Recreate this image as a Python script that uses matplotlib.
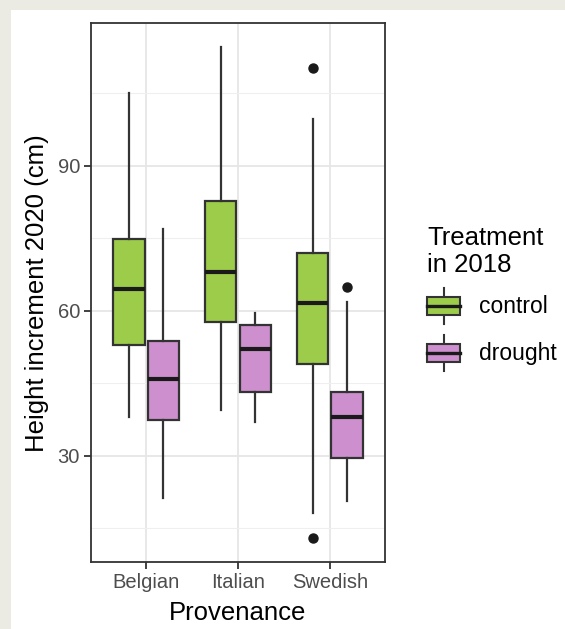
import matplotlib
matplotlib.use("Agg")
import matplotlib.pyplot as plt
from matplotlib.patches import Rectangle, Patch
from matplotlib.lines import Line2D
from matplotlib.legend_handler import HandlerBase
from matplotlib.ticker import FixedLocator

plt.rcParams['font.family'] = ['Liberation Sans', 'DejaVu Sans']

# ---- data ----
provenance = ["Belgian", "Italian", "Swedish"]
treatments = ["control", "drought"]

control_whislo = [38.1, 39.5, 18.2]
control_q1 = [53.0, 57.6, 49.0]
control_med = [64.5, 68.1, 61.6]
control_q3 = [74.8, 82.6, 72.0]
control_whishi = [105.0, 114.5, 99.6]
control_fliers = [[], [], [110.1, 13.0]]

drought_whislo = [21.2, 37.1, 20.7]
drought_q1 = [37.4, 43.3, 29.5]
drought_med = [45.8, 52.1, 38.0]
drought_q3 = [53.7, 57.0, 43.3]
drought_whishi = [76.9, 59.5, 61.9]
drought_fliers = [[], [], [65.0]]

y_major = [30, 60, 90]
y_minor = [15, 45, 75, 105]

colors = {"control": "#9dcb4a", "drought": "#cd8fcd"}
edge = "#333333"
median_col = "#1a1a1a"

series = {
    "control": (control_whislo, control_q1, control_med, control_q3, control_whishi, control_fliers),
    "drought": (drought_whislo, drought_q1, drought_med, drought_q3, drought_whishi, drought_fliers),
}

W, H = 565, 629
fig = plt.figure(figsize=(W / 100, H / 100), dpi=100, facecolor="#ebebe4")
fig.patches.append(Rectangle((11 / W, 0), 1 - 11 / W, 1 - 10 / H, transform=fig.transFigure,
                             facecolor="white", edgecolor="none", zorder=-10))

ax = fig.add_axes([91 / W, 1 - 562.3 / H, (385 - 91) / W, (562.3 - 23.3) / H])
ax.set_zorder(1)
ax.set_facecolor("white")

dodge = 0.1875
box_w = 0.34
for k, t in enumerate(treatments):
    lo, q1, med, q3, hi, fl = series[t]
    stats = []
    for i in range(len(provenance)):
        stats.append(dict(whislo=lo[i], q1=q1[i], med=med[i], q3=q3[i], whishi=hi[i],
                          fliers=fl[i], label=provenance[i]))
    offs = -dodge if k == 0 else dodge
    pos = [i + 1 + offs for i in range(len(provenance))]
    ax.bxp(stats, positions=pos, widths=box_w, patch_artist=True, showcaps=False,
           manage_ticks=False,
           boxprops=dict(facecolor=colors[t], edgecolor=edge, linewidth=1.6),
           whiskerprops=dict(color=edge, linewidth=1.6),
           medianprops=dict(color=median_col, linewidth=3.0, solid_capstyle='butt'),
           flierprops=dict(marker='o', markersize=6.5, markerfacecolor="#1a1a1a",
                           markeredgecolor="#1a1a1a"),
           zorder=3)

ax.set_xlim(0.4, 3.6)
ax.set_ylim(8.0, 119.4)
ax.set_xticks([1, 2, 3])
ax.set_xticklabels(provenance)
ax.yaxis.set_major_locator(FixedLocator(y_major))
ax.yaxis.set_minor_locator(FixedLocator(y_minor))
ax.tick_params(axis='both', which='major', length=5, width=1.3, color=edge,
               labelsize=14.5, labelcolor="#4d4d4d", pad=3)
ax.tick_params(axis='y', which='minor', length=0)
ax.grid(True, which='major', color="#e6e6e6", linewidth=1.3, zorder=0)
ax.grid(True, which='minor', axis='y', color="#efefef", linewidth=0.8, zorder=0)
ax.set_axisbelow(True)
for s in ax.spines.values():
    s.set_color(edge)
    s.set_linewidth(1.3)

ax.set_xlabel("Provenance", fontsize=18.5, color="black", labelpad=6)
ax.set_ylabel("Height increment 2020 (cm)", fontsize=18.5, color="black", labelpad=6)


class BoxKeyHandler(HandlerBase):
    def create_artists(self, legend, orig_handle, xdescent, ydescent, width, height,
                       fontsize, trans):
        fc = orig_handle.get_facecolor()
        x0 = -xdescent
        y0 = -ydescent
        cy = y0 + height / 2
        cx = x0 + width / 2
        bh = height * 0.25
        arts = [
            Line2D([cx, cx], [y0, cy - bh], color=edge, lw=1.5, transform=trans),
            Line2D([cx, cx], [cy + bh, y0 + height], color=edge, lw=1.5, transform=trans),
            Rectangle((x0, cy - bh), width, 2 * bh, facecolor=fc, edgecolor=edge,
                      lw=1.5, transform=trans),
            Line2D([x0, x0 + width], [cy, cy], color=median_col, lw=2.4, transform=trans),
        ]
        return arts


handles = [Patch(facecolor=colors[t], edgecolor=edge) for t in treatments]
leg = fig.legend(handles, treatments, loc='upper left',
                 bbox_to_anchor=(427 / W, 1 - 226 / H),
                 frameon=False, fontsize=16.5, title="Treatment\nin 2018",
                 title_fontsize=18.5, alignment='left',
                 handler_map={Patch: BoxKeyHandler()},
                 handlelength=1.45, handleheight=2.0, labelspacing=0.5,
                 handletextpad=0.8, borderpad=0, borderaxespad=0)
leg.get_title().set_linespacing(1.15)

fig.savefig("out.png", dpi=100, facecolor=fig.get_facecolor())
